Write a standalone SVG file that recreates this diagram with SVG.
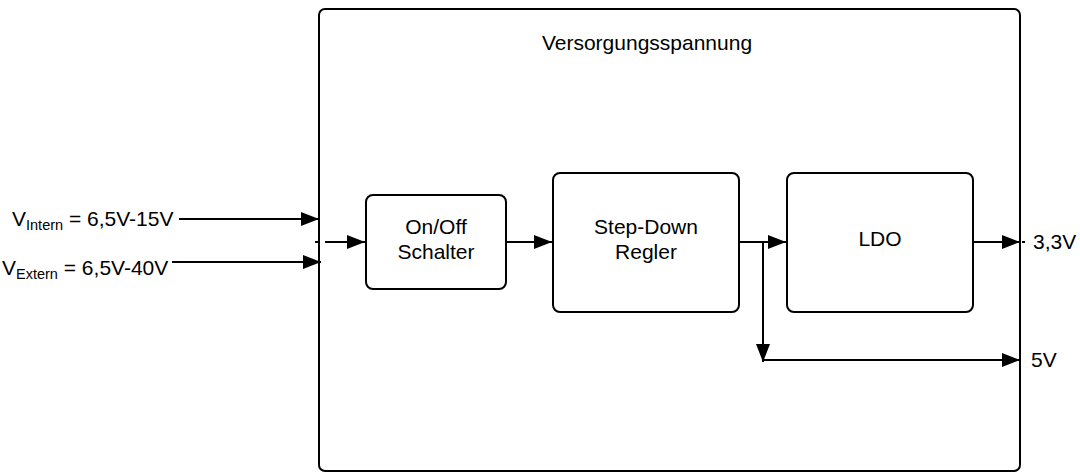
<svg xmlns="http://www.w3.org/2000/svg" width="1080" height="473" viewBox="0 0 1080 473">
<style>
.box{fill:#fff;stroke:#000;stroke-width:2}
.ln{fill:none;stroke:#000;stroke-width:2}
.t{font-family:"Liberation Sans",Arial,sans-serif;font-size:21px;fill:#000}
.c{text-anchor:middle}
</style>
<defs>
<marker id="ah" markerUnits="userSpaceOnUse" markerWidth="19" markerHeight="15" refX="18" refY="7" orient="auto">
<path d="M0,0 L18,7 L0,14 Z" fill="#000"/>
</marker>
</defs>
<g id="container">
<rect class="box" x="319" y="9" width="701" height="462" rx="6"/>
<text class="t c" x="647" y="50">Versorgungsspannung</text>
</g>
<g id="onoff">
<rect class="box" x="366" y="195" width="140" height="94" rx="7"/>
<text class="t c" x="436" y="234">On/Off</text>
<text class="t c" x="436" y="259">Schalter</text>
</g>
<g id="stepdown">
<rect class="box" x="553" y="173" width="186" height="139" rx="7"/>
<text class="t c" x="646" y="234">Step-Down</text>
<text class="t c" x="646" y="259">Regler</text>
</g>
<g id="ldo">
<rect class="box" x="787" y="173" width="186" height="139" rx="7"/>
<text class="t c" x="880" y="246">LDO</text>
</g>
<g id="labels">
<text class="t" x="12" y="226">V<tspan font-size="14.5" dy="4">Intern</tspan><tspan dy="-4"> = 6,5V-15V</tspan></text>
<text class="t" x="2" y="275">V<tspan font-size="14.5" dy="4">Extern</tspan><tspan dy="-4"> = 6,5V-40V</tspan></text>
<text class="t" x="1033" y="249">3,3V</text>
<text class="t" x="1031" y="367">5V</text>
</g>
<g id="connectors">
<line class="ln" x1="179" y1="219" x2="319" y2="219" marker-end="url(#ah)"/>
<line class="ln" x1="172" y1="262" x2="321" y2="262" marker-end="url(#ah)"/>
<line class="ln" x1="315" y1="242" x2="318" y2="242"/>
<line class="ln" x1="325" y1="242" x2="365" y2="242" marker-end="url(#ah)"/>
<line class="ln" x1="506" y1="242" x2="552" y2="242" marker-end="url(#ah)"/>
<line class="ln" x1="739" y1="242" x2="786" y2="242" marker-end="url(#ah)"/>
<line class="ln" x1="763" y1="242" x2="763" y2="362" marker-end="url(#ah)"/>
<line class="ln" x1="763" y1="360" x2="1020" y2="360" marker-end="url(#ah)"/>
<line class="ln" x1="973" y1="242" x2="1020" y2="242" marker-end="url(#ah)"/>
<line class="ln" x1="1022" y1="242" x2="1025" y2="242"/>
</g>
</svg>
